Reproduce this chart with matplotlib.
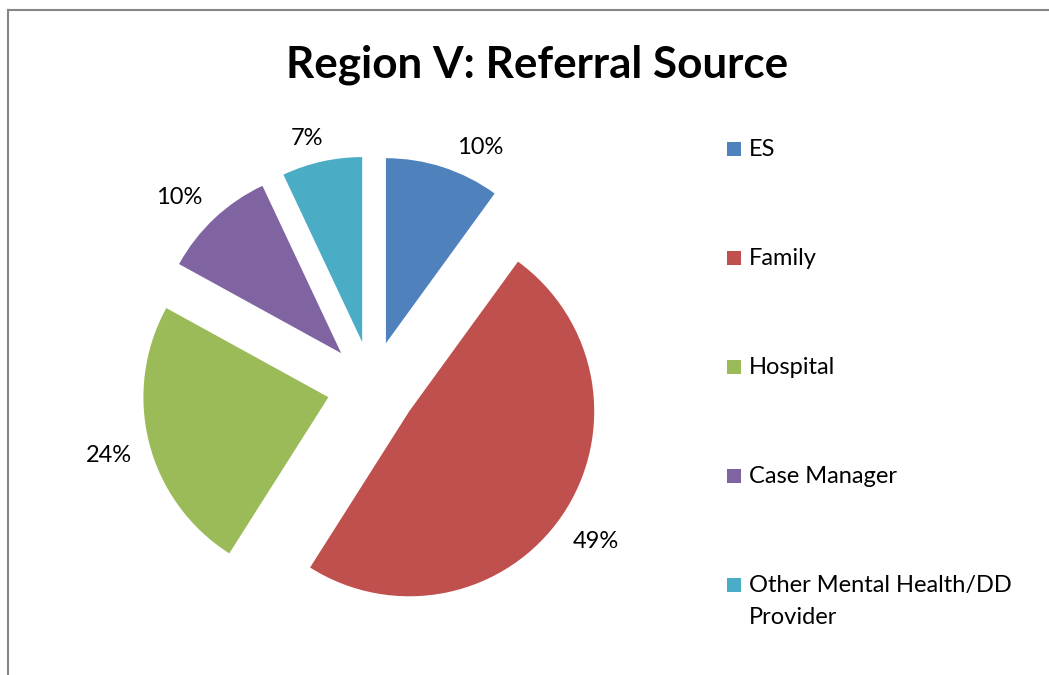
import textwrap
import matplotlib
matplotlib.use("Agg")
import matplotlib.pyplot as plt
from matplotlib.patches import Rectangle

# ---- data ----
categories = ["ES", "Family", "Hospital", "Case Manager", "Other Mental Health/DD Provider"]
values = [10, 49, 24, 10, 7]
colors = ["#4F81BD", "#C0504D", "#9BBB59", "#8064A2", "#4BACC6"]
title = "Region V: Referral Source"

plt.rcParams["font.family"] = ["Lato", "DejaVu Sans"]

W, H = 1049, 675
fig = plt.figure(figsize=(W / 100, H / 100), dpi=100)

# pie axes: centre at pixel (372, 386), radius 185 px
cx, cy, R = 372, 386, 185
half = 260
ax = fig.add_axes([(cx - half) / W, (H - cy - half) / H, 2 * half / W, 2 * half / H])
explode = [45 / R] * len(values)
wedges, texts, autotexts = ax.pie(
    values, colors=colors, startangle=90, counterclock=False,
    explode=explode, autopct="%1.0f%%", pctdistance=1.2,
    textprops=dict(fontsize=17, color="#000000"),
    wedgeprops=dict(linewidth=0),
)
# Excel-style outside-end label placement (pixel centres)
label_px = [(480, 145), (596, 540), (109, 453), (179, 195), (307, 136)]
for t, (px, py) in zip(autotexts, label_px):
    t.set_position(((px - cx) / R, (cy - py) / R))
    t.set_va("center_baseline")

lim = half / R
ax.set_xlim(-lim, lim)
ax.set_ylim(-lim, lim)
ax.set_aspect("equal")
ax.axis("off")

# title
fig.text(537 / W, 1 - 61 / H, title, ha="center", va="center_baseline",
         fontsize=31.7, fontweight="bold", color="#000000")

# legend (Excel-style: marker aligned with first line)
leg_x, leg_y0, leg_dy = 727, 149, 109
sq = 14
for i, (lab, col) in enumerate(zip(categories, colors)):
    y = leg_y0 + i * leg_dy
    fig.patches.append(Rectangle((leg_x / W, 1 - (y + sq / 2) / H), sq / W, sq / H,
                                 transform=fig.transFigure, facecolor=col,
                                 edgecolor="none"))
    txt = "\n".join(textwrap.wrap(lab, 22))
    fig.text((leg_x + 22) / W, 1 - (y - 10) / H, txt, ha="left", va="top",
             fontsize=17, color="#000000", linespacing=1.65)

# chart border (top and left visible)
fig.add_artist(plt.Line2D([8 / W, 1], [1 - 10 / H, 1 - 10 / H],
                          transform=fig.transFigure, color="#868686", linewidth=1.5))
fig.add_artist(plt.Line2D([8 / W, 8 / W], [0, 1 - 10 / H],
                          transform=fig.transFigure, color="#868686", linewidth=1.5))

fig.savefig("out.png", dpi=100, facecolor="white")
